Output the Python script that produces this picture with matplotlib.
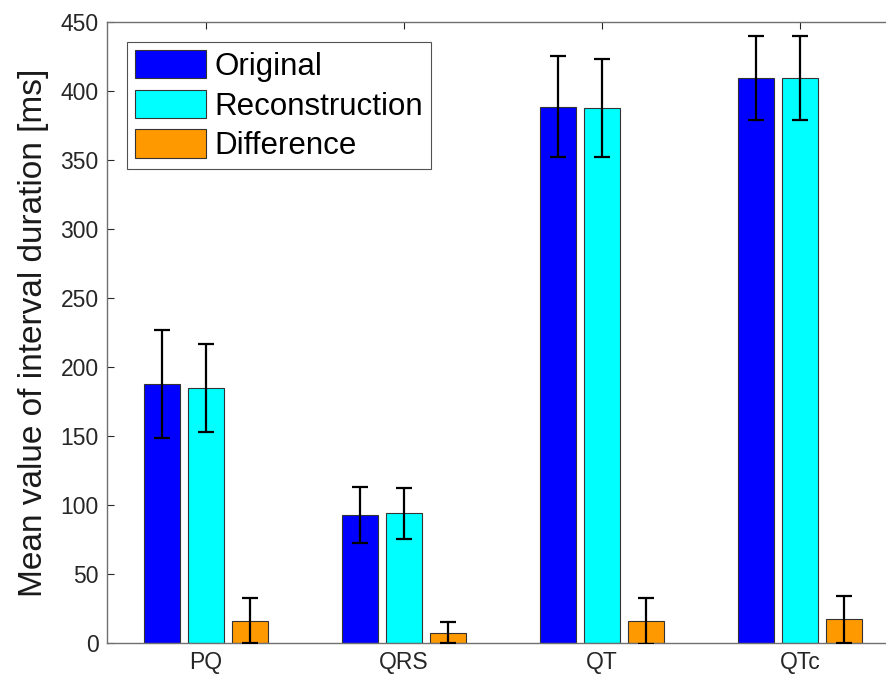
import numpy as np
import matplotlib

matplotlib.use("Agg")
import matplotlib.pyplot as plt  # noqa: E402

# Interval means and spreads [ms]
intervals = ["PQ", "QRS", "QT", "QTc"]
series = ["Original", "Reconstruction", "Difference"]
original_mean = [187.5, 92.8, 388.5, 409.5]
original_err = [39.0, 20.3, 36.6, 30.5]
recon_mean = [184.8, 94.0, 387.7, 409.5]
recon_err = [32.0, 18.5, 35.3, 30.3]
diff_mean = [16.2, 7.5, 16.2, 17.2]
diff_err = [16.3, 7.7, 16.6, 17.0]
colors = ["#0000ff", "#00ffff", "#ff9900"]

plt.rcParams["font.family"] = ["Liberation Sans", "DejaVu Sans"]

fig = plt.figure(figsize=(8.86, 6.81), dpi=100)
# axes extend past the right edge: the reference is cropped there
ax = fig.add_axes([107 / 886, 38 / 681, 792 / 886, 621 / 681])

x = np.arange(1, len(intervals) + 1)
step = (min(0.8, 3 / 4.5)) / 3
width = step * 0.8
means = [original_mean, recon_mean, diff_mean]
errs = [original_err, recon_err, diff_err]
for k, (name, m, e, c) in enumerate(zip(series, means, errs, colors)):
    pos = x + (k - 1) * step
    ax.bar(pos, m, width=width, color=c, edgecolor="#333333", linewidth=0.8,
           label=name, zorder=2)
    ax.errorbar(pos, m, yerr=e, fmt="none", ecolor="black", elinewidth=1.6,
                capsize=5.5, capthick=1.6, zorder=3)

ax.set_xlim(0.5, 4.5)
ax.set_ylim(0, 450)
ax.set_yticks(np.arange(0, 451, 50))
ax.set_xticks(x)
ax.set_xticklabels(intervals)
ax.tick_params(direction="in", length=5, labelsize=16.5, colors="#262626",
               top=True, right=True, width=0.8, pad=6)
for s in ax.spines.values():
    s.set_color("#707070")
    s.set_linewidth(1.0)
ax.set_ylabel("Mean value of interval duration [ms]", fontsize=24,
              color="#1a1a1a", labelpad=8)

leg = ax.legend(loc="upper left", bbox_to_anchor=(0.025, 0.968), fontsize=22.5,
                frameon=True, fancybox=False, edgecolor="#262626",
                handlelength=2.3, handleheight=1.04, handletextpad=0.25,
                labelspacing=0.25, borderpad=0.25, borderaxespad=0.0)
leg.get_frame().set_linewidth(0.8)

fig.savefig("out.png", dpi=100)
